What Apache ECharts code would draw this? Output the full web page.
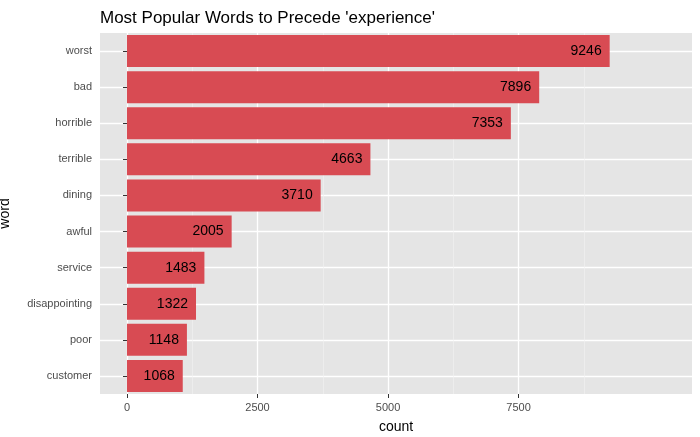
<!DOCTYPE html>
<html>
<head>
<meta charset="utf-8">
<script src="https://cdn.jsdelivr.net/npm/echarts@6/dist/echarts.min.js"></script>
<style>body{margin:0}#chart{width:700px;height:437px}</style>
</head>
<body>
<div id="chart"></div>
<script>
var words = ['worst', 'bad', 'horrible', 'terrible', 'dining', 'awful', 'service', 'disappointing', 'poor', 'customer'];
var counts = [9246, 7896, 7353, 4663, 3710, 2005, 1483, 1322, 1148, 1068];
var majorTicks = [0, 2500, 5000, 7500];
var minorTicks = [1250, 3750, 6250, 8750];

var chart = echarts.init(document.getElementById('chart'));
var pos = words.map(function (w, i) { return i + 1; });

chart.setOption({
    animation: false,
    textStyle: {fontFamily: 'Liberation Sans, Arial, sans-serif'},
    title: {
        text: "Most Popular Words to Precede 'experience'",
        left: 95, top: 5,
        textStyle: {fontSize: 17, fontWeight: 'normal', color: '#000'}
    },
    grid: {left: 100, right: 8, top: 33, bottom: 43, backgroundColor: '#e5e5e5', show: true, borderWidth: 0,
        containLabel: false, outerBoundsMode: 'none'},
    xAxis: [{
        type: 'value', min: -517, max: 10823,
        name: 'count', nameLocation: 'middle', nameGap: 26,
        nameTextStyle: {fontSize: 14, color: '#000'},
        axisLine: {show: false},
        axisTick: {show: true, length: 4, lineStyle: {color: '#333'}, customValues: majorTicks},
        axisLabel: {color: '#4d4d4d', fontSize: 11, customValues: majorTicks,
            formatter: function (v) { return String(v); }},
        splitLine: {show: true, lineStyle: {color: '#fff', width: 1.3}}
    }, {
        type: 'value', min: -517, max: 10823, position: 'bottom',
        axisLine: {show: false},
        axisTick: {show: false, customValues: minorTicks},
        axisLabel: {show: false, customValues: minorTicks},
        splitLine: {show: true, lineStyle: {color: '#f2f2f2', width: 0.6}}
    }],
    yAxis: [{
        type: 'category', inverse: true, data: words,
        name: 'word', nameLocation: 'middle', nameGap: 88, nameRotate: 90,
        nameTextStyle: {fontSize: 14, color: '#000'},
        axisLine: {show: false},
        axisTick: {show: true, length: 4, alignWithLabel: true, lineStyle: {color: '#333'}},
        axisLabel: {color: '#4d4d4d', fontSize: 11},
        splitLine: {show: false}
    }, {
        type: 'value', inverse: true, min: 0.5, max: 10.5, position: 'left',
        axisLine: {show: false},
        axisTick: {show: false, customValues: pos},
        axisLabel: {show: false, customValues: pos},
        splitLine: {show: true, lineStyle: {color: '#fff', width: 1.3}}
    }],
    series: [{
        type: 'bar',
        xAxisIndex: 0,
        yAxisIndex: 0,
        barWidth: 32,
        itemStyle: {color: '#d84b53'},
        label: {show: true, position: 'insideRight', color: '#000', fontSize: 14, distance: 8},
        data: counts
    }]
});
</script>
</body>
</html>
